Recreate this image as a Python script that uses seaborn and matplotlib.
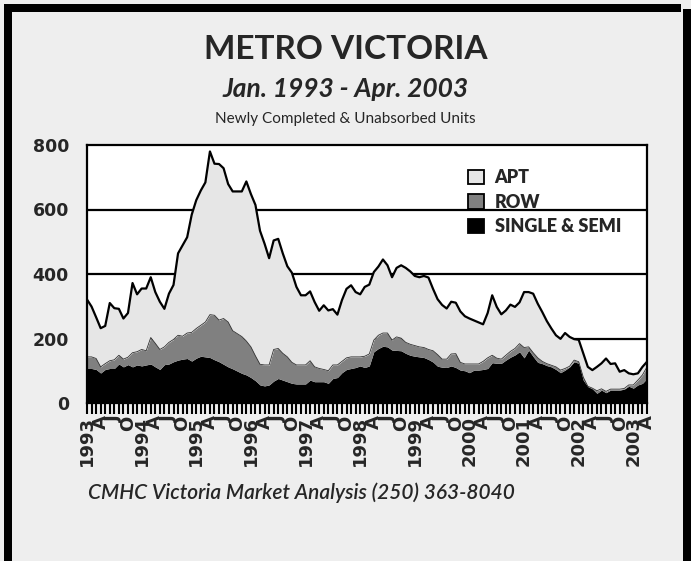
import numpy as np
import pandas as pd
import matplotlib
matplotlib.use("Agg")
import matplotlib.pyplot as plt
import seaborn as sns
from matplotlib.patches import Rectangle, Patch

# Monthly data, Jan 1993 - Apr 2003 (124 months)
start_year = 1993
single = [107, 107, 104, 93, 104, 107, 107, 121, 112, 119,
          112, 118, 115, 118, 121, 112, 104, 119, 121, 128,
          133, 136, 138, 130, 139, 145, 143, 141, 134, 128,
          120, 112, 106, 99, 92, 87, 79, 69, 56, 53,
          56, 68, 76, 71, 66, 61, 59, 59, 59, 71,
          66, 66, 66, 61, 76, 79, 94, 104, 107, 110,
          115, 110, 115, 159, 169, 176, 174, 164, 163, 162,
          154, 148, 145, 143, 141, 135, 127, 114, 111, 110,
          115, 110, 102, 100, 94, 102, 102, 104, 107, 125,
          123, 123, 133, 142, 149, 159, 140, 164, 144, 126,
          122, 116, 112, 104, 94, 102, 112, 128, 123, 71,
          51, 44, 30, 40, 32, 40, 40, 40, 43, 52,
          46, 56, 61, 76]
row = [36, 36, 34, 19, 18, 24, 27, 27, 24, 23,
       44, 41, 51, 44, 82, 73, 62, 55, 67, 69,
       77, 71, 79, 89, 92, 96, 108, 133, 138, 129,
       142, 139, 118, 116, 114, 105, 95, 77, 64, 65,
       62, 98, 93, 83, 77, 65, 59, 59, 59, 60,
       46, 41, 38, 39, 42, 39, 35, 36, 36, 33,
       28, 35, 37, 36, 41, 41, 43, 31, 42, 39,
       34, 34, 33, 31, 31, 31, 35, 36, 25, 26,
       37, 43, 24, 21, 27, 19, 19, 25, 33, 23,
       16, 13, 15, 18, 20, 25, 32, 10, 12, 14,
       7, 6, 5, 8, 8, 5, 2, 5, 5, 9,
       1, 2, 8, 4, 4, 3, 3, 3, 2, 4,
       10, 15, 26, 36]
apt = [178, 156, 128, 120, 117, 179, 160, 144, 126, 137,
       216, 178, 189, 193, 187, 159, 148, 118, 151, 169,
       254, 282, 297, 365, 398, 418, 433, 506, 470, 484,
       466, 428, 432, 441, 450, 495, 474, 468, 414, 376,
       331, 338, 340, 310, 281, 278, 242, 216, 216, 215,
       201, 179, 199, 187, 173, 156, 190, 214, 222, 201,
       194, 215, 215, 211, 213, 228, 210, 195, 214, 226,
       231, 226, 216, 216, 222, 223, 192, 172, 168, 157,
       162, 158, 158, 148, 141, 135, 129, 115, 139, 186,
       159, 139, 139, 145, 129, 128, 172, 170, 183, 168,
       153, 132, 114, 98, 97, 110, 91, 65, 68, 74,
       60, 56, 74, 79, 102, 78, 80, 54, 57, 36,
       33, 21, 25, 16]
series_names = ["SINGLE & SEMI", "ROW", "APT"]
quarter_letters = {3: "A", 6: "J", 9: "O"}
y_ticks = [0, 200, 400, 600, 800]

colors = ["#000000", "#808080", "#e6e6e6"]

sns.set_theme(style="white")
plt.rcParams['font.family'] = ['Lato', 'DejaVu Sans']

df = pd.DataFrame({"m": np.arange(len(single)), "single": single, "row": row, "apt": apt})
df["lvl_row"] = df["single"] + df["row"]
df["lvl_apt"] = df["lvl_row"] + df["apt"]

W, H = 691, 561
fig = plt.figure(figsize=(W / 100, H / 100), dpi=100, facecolor="#eeeeee")

# frame borders
def px_rect(x0, y0, x1, y1):
    fig.add_artist(Rectangle((x0 / W, 1 - y1 / H), (x1 - x0) / W, (y1 - y0) / H,
                             transform=fig.transFigure, facecolor="black",
                             edgecolor="none", zorder=0))
px_rect(4, 4, 12, H)
px_rect(4, 4, 681, 12)
px_rect(683, 9, W, H)

ax = fig.add_axes([87 / W, 1 - 403 / H, 560 / W, 258 / H])
ax.set_facecolor("white")

for yv in y_ticks[1:-1]:
    ax.axhline(yv, color="black", lw=1.6, zorder=1)

ax.stackplot(df["m"], df["single"], df["row"], df["apt"], colors=colors,
             labels=series_names, zorder=2, linewidth=0)
sns.lineplot(data=df, x="m", y="lvl_row", color="#303030", lw=0.6, ax=ax, zorder=3)
sns.lineplot(data=df, x="m", y="lvl_apt", color="black", lw=1.6, ax=ax, zorder=4)

ax.set_xlim(0, len(single) - 1)
ax.set_ylim(0, 800)
ax.set_xlabel("")
ax.set_ylabel("")

for s in ["left", "top", "right", "bottom"]:
    ax.spines[s].set_visible(True)
    ax.spines[s].set_color("black")
    ax.spines[s].set_linewidth(1.6)
    ax.spines[s].set_zorder(5)

major = list(range(0, len(single), 3))
labels = []
for i in major:
    mo = i % 12
    labels.append(str(start_year + i // 12) if mo == 0 else quarter_letters[mo])
ax.set_xticks(major)
ax.set_xticklabels(labels, rotation=90, fontsize=13, fontweight="bold",
                   family="DejaVu Sans", va="top")
ax.set_xticks(range(len(single)), minor=True)
ax.tick_params(axis="x", which="both", bottom=True, direction="out", length=8,
               width=1.5, color="black", pad=1)

ax.set_yticks(y_ticks)
ax.set_yticklabels([str(v) for v in y_ticks], fontsize=12.5, fontweight="bold",
                   family="DejaVu Sans")
ax.tick_params(axis="y", which="both", left=False, length=0, pad=13)

handles = [Patch(facecolor=colors[2], edgecolor="black", lw=1.3),
           Patch(facecolor=colors[1], edgecolor="black", lw=1.3),
           Patch(facecolor=colors[0], edgecolor="black", lw=1.3)]
leg = ax.legend(handles, ["APT", "ROW", "SINGLE & SEMI"], loc="upper left",
                bbox_to_anchor=(0.652, 0.97), frameon=False, handlelength=0.85,
                handleheight=0.85, handletextpad=0.6, labelspacing=0.42,
                prop={"weight": "heavy", "size": 13, "family": "Lato"})
leg.set_zorder(6)

fig.text(0.5, 1 - 49 / H, "METRO VICTORIA", ha="center", va="center",
         fontsize=24, fontweight="bold")
fig.text(0.5, 1 - 89 / H, "Jan. 1993 - Apr. 2003", ha="center", va="center",
         fontsize=19, fontweight="bold", style="italic")
fig.text(0.5, 1 - 119 / H, "Newly Completed & Unabsorbed Units", ha="center",
         va="center", fontsize=11)
fig.text(88 / W, 1 - 493 / H, "CMHC Victoria Market Analysis (250) 363-8040",
         ha="left", va="center", fontsize=15, style="italic", fontweight="semibold")

fig.savefig("out.png", dpi=100, facecolor=fig.get_facecolor())
